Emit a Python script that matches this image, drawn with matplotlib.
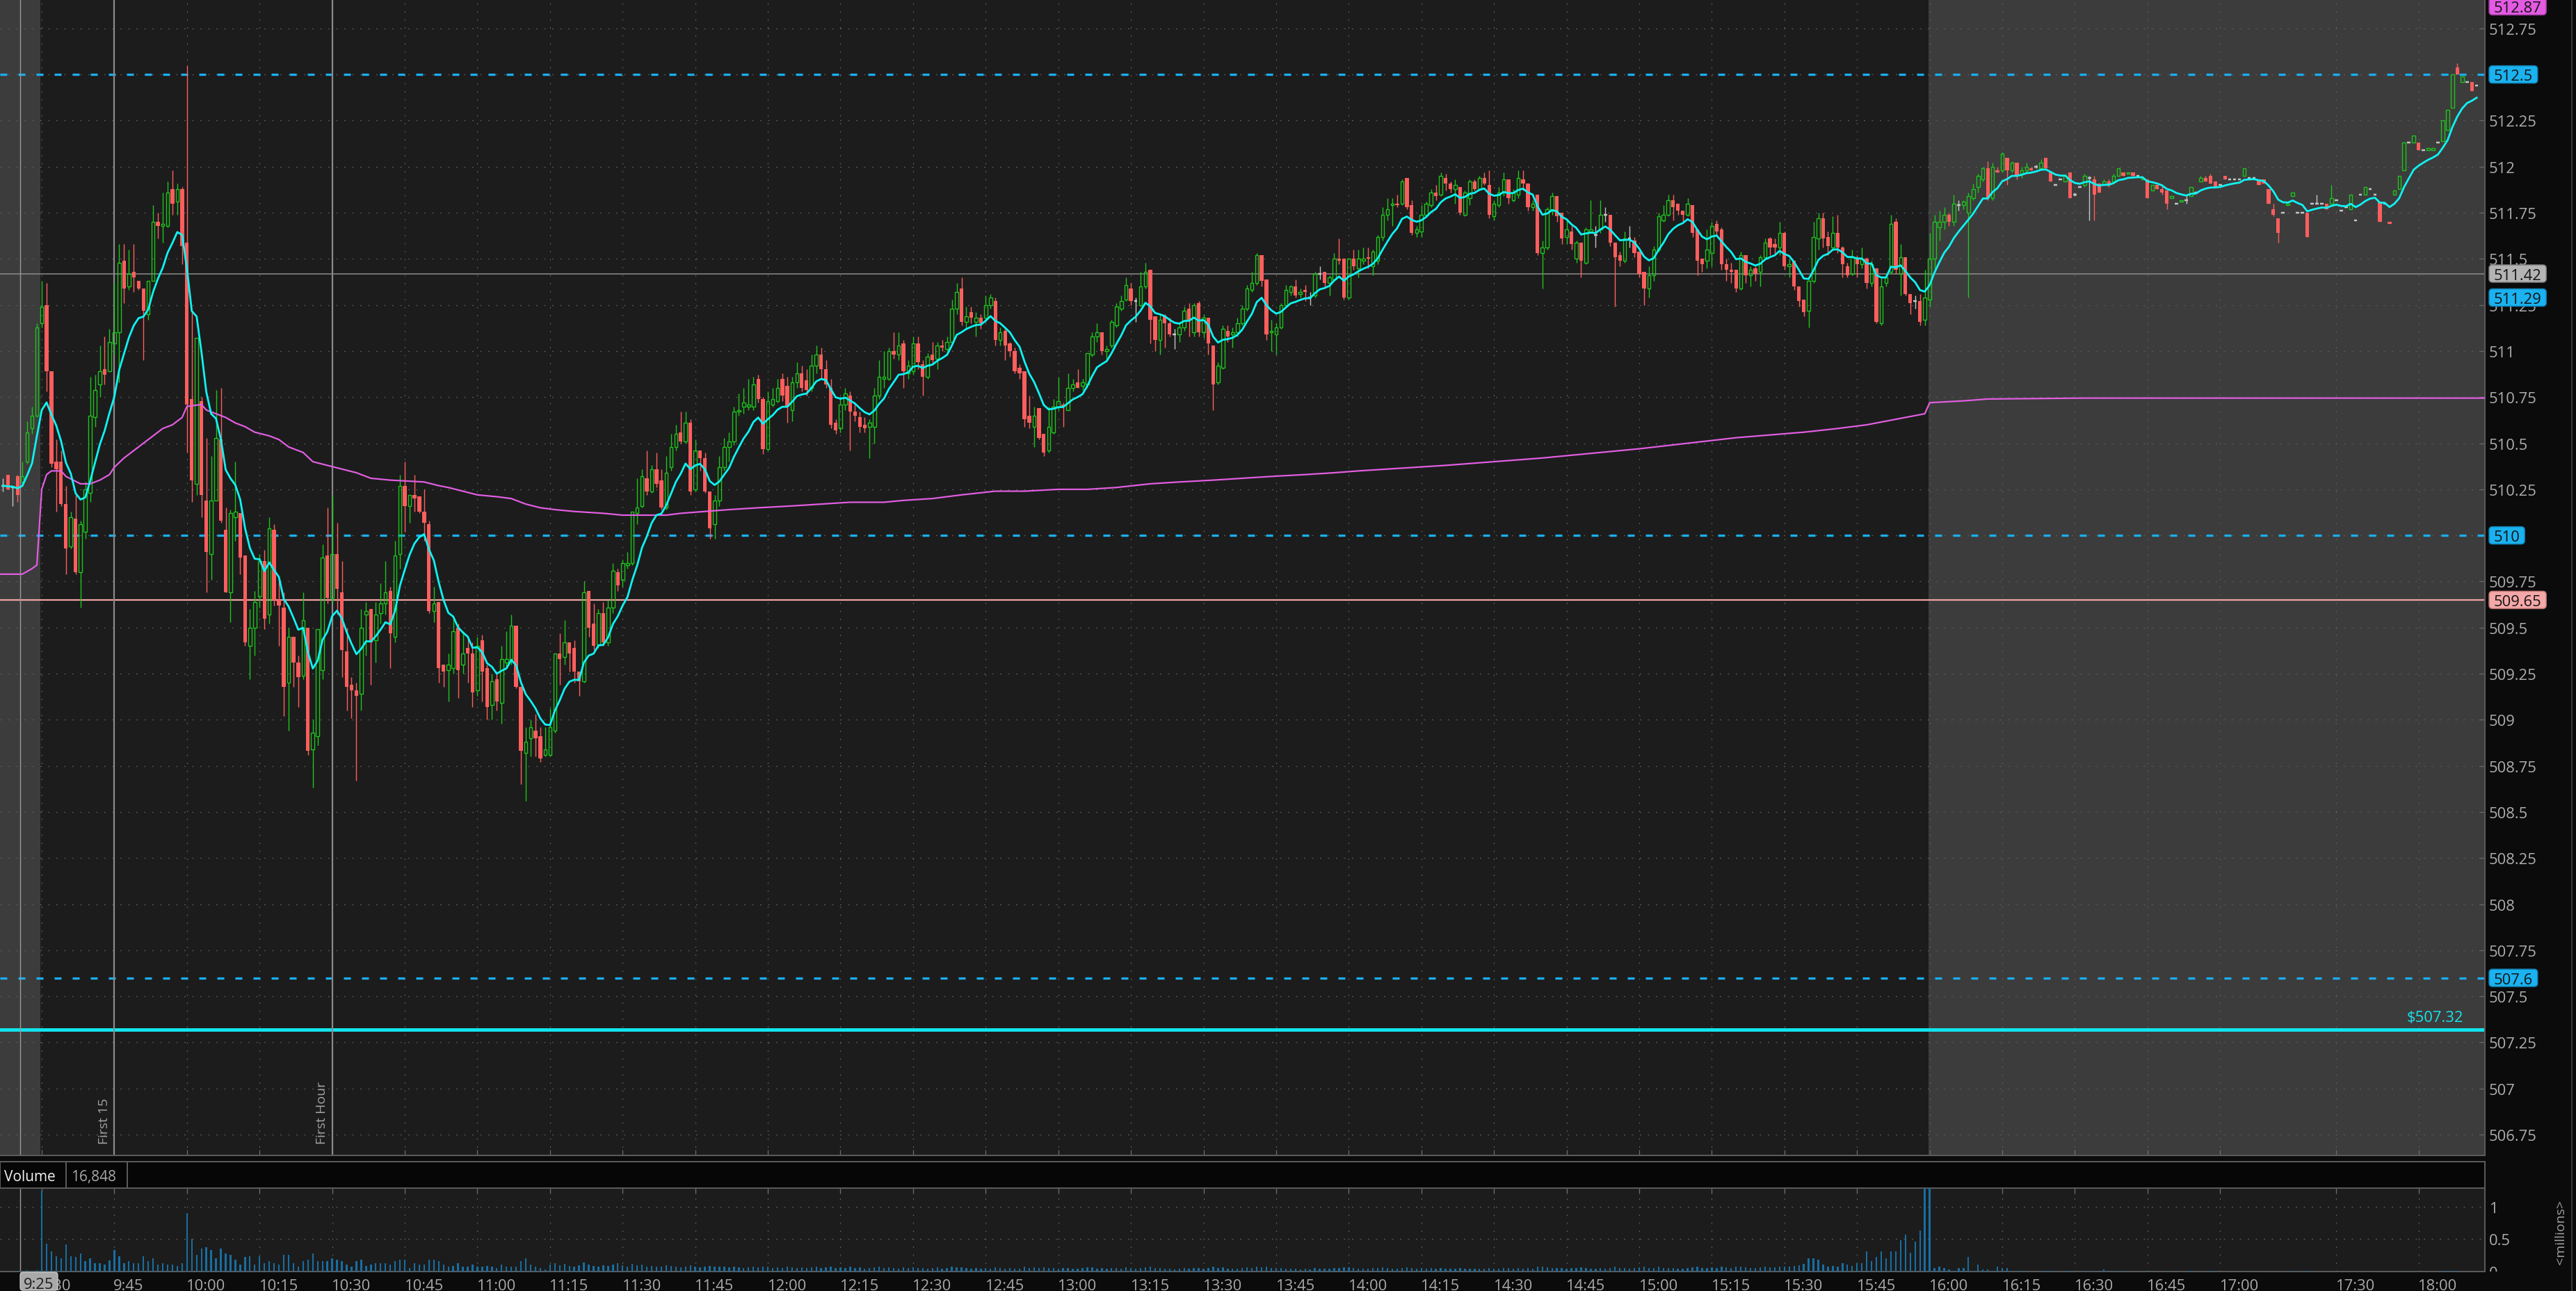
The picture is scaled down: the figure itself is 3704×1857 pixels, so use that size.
import matplotlib
matplotlib.use("Agg")
import matplotlib.pyplot as plt
import matplotlib.transforms as mtrans
from matplotlib.patches import FancyBboxPatch
from matplotlib.lines import Line2D
import numpy as np
import pandas as pd

plt.rcParams['font.family'] = ['Open Sans', 'DejaVu Sans']
plt.rcParams['lines.scale_dashes'] = False

W, H, DPI = 3704, 1858, 100
PX = 72 / DPI          # points per output pixel
FS = 15.8              # axis text size

# ------------------------------------------------------------------ data
# one-minute bars; index 0 = 9:30, negative = pre-market (first bar 9:22)
FIRST_BAR = -8

opens = [
    510.27, 510.33, 510.26, 510.32, 510.29, 510.40, 510.58, 510.65,
    511.15, 511.25, 510.89, 510.40, 510.40, 510.17, 509.94, 510.09, 509.80, 510.02, 510.23, 510.64, 510.82, 510.90, 510.89,
    511.04, 511.10, 511.49, 511.35, 511.43, 511.38, 511.34, 511.20, 511.38, 511.70, 511.68, 511.68, 511.88, 511.81, 511.88,
    511.59, 510.74, 510.28, 510.73, 510.19, 509.90, 510.19, 510.52, 510.03, 509.69, 510.10, 510.12, 509.89, 509.40, 509.50,
    509.67, 509.86, 509.57, 510.03, 509.65, 509.61, 509.20, 509.45, 509.31, 509.24, 509.50, 508.84, 508.91, 509.27, 509.89,
    509.66, 509.90, 509.69, 509.37, 509.19, 509.16, 509.14, 509.57, 509.60, 509.43, 509.58, 509.63, 509.70, 509.45, 509.90,
    510.27, 510.16, 510.22, 510.21, 510.13, 510.06, 509.59, 509.64, 509.30, 509.27, 509.28, 509.50, 509.30, 509.39, 509.36,
    509.16, 509.43, 509.28, 509.08, 509.22, 509.09, 509.31, 509.33, 509.51, 509.18, 508.82, 508.90, 508.94, 508.91, 508.81,
    508.81, 508.94, 509.36, 509.34, 509.42, 509.39, 509.26, 509.21, 509.70, 509.52, 509.41, 509.58, 509.42, 509.61, 509.80,
    509.76, 509.84, 509.85, 510.12, 510.16, 510.31, 510.24, 510.36, 510.30, 510.15, 510.37, 510.48, 510.56, 510.51, 510.61,
    510.25, 510.46, 510.42, 510.24, 510.06, 510.19, 510.37, 510.48, 510.51, 510.67, 510.70, 510.70, 510.70, 510.85, 510.74,
    510.47, 510.71, 510.73, 510.85, 510.81, 510.68, 510.83, 510.88, 510.84, 510.80, 510.92, 510.98, 510.90, 510.80, 510.61,
    510.58, 510.71, 510.76, 510.67, 510.64, 510.60, 510.59, 510.59, 510.76, 510.85, 510.85, 511.00, 510.98, 511.04, 510.88,
    510.89, 511.04, 510.93, 510.86, 510.98, 510.96, 511.03, 511.01, 511.05, 511.23, 511.34, 511.16, 511.21, 511.16, 511.18,
    511.18, 511.25, 511.27, 511.06, 511.11, 511.04, 511.00, 510.91, 510.89, 510.65, 510.59, 510.69, 510.55, 510.46, 510.56,
    510.70, 510.71, 510.68, 510.80, 510.83, 510.81, 510.82, 510.98, 511.08, 511.10, 511.00, 511.03, 511.14, 511.23, 511.28,
    511.34, 511.27, 511.25, 511.35, 511.44, 511.19, 511.06, 511.19, 511.15, 511.09, 511.09, 511.13, 511.23, 511.10, 511.26,
    511.10, 511.18, 511.03, 510.83, 510.91, 511.11, 511.09, 511.10, 511.15, 511.23, 511.33, 511.37, 511.52, 511.39, 511.10,
    511.09, 511.13, 511.25, 511.32, 511.35, 511.31, 511.33, 511.29, 511.30, 511.42, 511.43, 511.37, 511.39, 511.50, 511.50,
    511.29, 511.50, 511.45, 511.49, 511.51, 511.46, 511.49, 511.62, 511.74, 511.79, 511.80, 511.80, 511.94, 511.79, 511.64,
    511.65, 511.74, 511.79, 511.86, 511.85, 511.94, 511.91, 511.88, 511.89, 511.74, 511.83, 511.92, 511.88, 511.94, 511.90,
    511.73, 511.79, 511.86, 511.93, 511.82, 511.85, 511.93, 511.91, 511.78, 511.85, 511.53, 511.56, 511.76, 511.84, 511.75,
    511.62, 511.65, 511.50, 511.59, 511.48, 511.65, 511.63, 511.66, 511.74, 511.74, 511.59, 511.52, 511.49, 511.61, 511.60,
    511.54, 511.43, 511.34, 511.41, 511.55, 511.71, 511.74, 511.82, 511.80, 511.76, 511.74, 511.79, 511.66, 511.50, 511.49,
    511.53, 511.69, 511.66, 511.47, 511.44, 511.44, 511.34, 511.52, 511.41, 511.45, 511.43, 511.51, 511.61, 511.58, 511.56,
    511.64, 511.46, 511.49, 511.35, 511.28, 511.22, 511.38, 511.61, 511.72, 511.62, 511.56, 511.64, 511.56, 511.46, 511.42,
    511.50, 511.47, 511.50, 511.37, 511.45, 511.15, 511.37, 511.43, 511.70, 511.42, 511.51, 511.31, 511.27, 511.27, 511.17,
    511.28, 511.50, 511.67, 511.70, 511.74, 511.70, 511.79, 511.79, 511.75, 511.83, 511.89, 511.93, 511.99, 511.83, 511.98,
    511.98, 512.05, 511.98, 512.02, 511.96, 511.98, 511.99, 512.00, 511.99, 512.05, 511.97, 511.90, 511.93, 511.92, 511.97,
    511.85, 511.89, 511.90, 511.94, 511.93, 511.91, 511.90, 511.92, 511.92, 511.95, 511.97, 511.96, 511.97, 511.95, 511.93,
    511.93, 511.87, 511.90, 511.88, 511.87, 511.83, 511.80, 511.81, 511.82, 511.84, 511.86, 511.92, 511.94, 511.95, 511.92,
    511.90, 511.95, 511.93, 511.93, 511.93, 511.95, 511.94, 511.94, 511.93, 511.93, 511.88, 511.77, 511.72, 511.75, 511.79,
    511.84, 511.75, 511.75, 511.75, 511.80, 511.80, 511.80, 511.80, 511.80, 511.82, 511.76, 511.78, 511.77, 511.71, 511.85,
    511.85, 511.88, 511.85, 511.81, 511.80, 511.70, 511.85, 511.88, 511.98, 512.13, 512.13, 512.13, 512.09, 512.09, 512.09,
    512.13, 512.14, 512.20, 512.32, 512.54, 512.46, 512.46, 512.46, 512.44,
]

highs = [
    510.31, 510.33, 510.27, 510.33, 510.40, 510.62, 510.70, 511.15,
    511.38, 511.37, 510.89, 510.52, 510.46, 510.27, 510.13, 510.22, 510.08, 510.29, 510.86, 510.87, 511.03, 511.08, 511.12,
    511.37, 511.58, 511.58, 511.55, 511.58, 511.38, 511.34, 511.38, 511.79, 511.75, 511.86, 511.92, 511.98, 511.91, 511.89,
    512.55, 511.21, 511.07, 510.75, 510.53, 510.43, 510.79, 510.80, 510.15, 510.14, 510.40, 510.12, 509.89, 509.60, 509.70,
    509.90, 509.92, 510.10, 510.06, 509.76, 509.69, 509.50, 509.45, 509.35, 509.69, 509.50, 509.00, 509.49, 509.95, 510.15,
    510.22, 510.07, 509.86, 509.50, 509.23, 509.20, 509.60, 509.64, 509.60, 509.64, 509.74, 509.86, 509.72, 509.97, 510.33,
    510.40, 510.22, 510.33, 510.21, 510.25, 510.08, 509.72, 509.64, 509.30, 509.36, 509.55, 509.52, 509.48, 509.44, 509.42,
    509.45, 509.46, 509.30, 509.25, 509.26, 509.40, 509.48, 509.57, 509.51, 509.18, 508.96, 509.00, 509.03, 508.96, 508.96,
    509.06, 509.36, 509.47, 509.54, 509.42, 509.43, 509.26, 509.75, 509.70, 509.63, 509.60, 509.64, 509.65, 509.85, 509.82,
    509.87, 509.91, 510.13, 510.31, 510.36, 510.46, 510.38, 510.45, 510.36, 510.43, 510.55, 510.60, 510.67, 510.67, 510.63,
    510.52, 510.46, 510.45, 510.24, 510.22, 510.43, 510.53, 510.56, 510.70, 510.77, 510.80, 510.85, 510.86, 510.87, 510.75,
    510.78, 510.80, 510.85, 510.88, 510.86, 510.86, 510.94, 510.92, 510.90, 510.98, 511.03, 511.02, 510.95, 510.85, 510.63,
    510.75, 510.80, 510.78, 510.72, 510.67, 510.64, 510.63, 510.80, 510.95, 511.00, 511.02, 511.10, 511.10, 511.06, 510.95,
    511.08, 511.08, 510.95, 510.99, 511.05, 511.05, 511.06, 511.08, 511.28, 511.37, 511.40, 511.24, 511.24, 511.21, 511.20,
    511.30, 511.31, 511.29, 511.13, 511.12, 511.05, 511.02, 510.93, 510.89, 510.76, 510.70, 510.69, 510.55, 510.70, 510.74,
    510.86, 510.72, 510.88, 510.85, 510.90, 510.85, 510.99, 511.10, 511.15, 511.10, 511.03, 511.17, 511.26, 511.30, 511.40,
    511.37, 511.29, 511.43, 511.48, 511.44, 511.19, 511.20, 511.20, 511.18, 511.12, 511.16, 511.24, 511.26, 511.26, 511.27,
    511.20, 511.18, 511.03, 510.94, 511.14, 511.14, 511.13, 511.18, 511.25, 511.36, 511.43, 511.53, 511.52, 511.39, 511.17,
    511.15, 511.26, 511.36, 511.36, 511.39, 511.34, 511.36, 511.32, 511.43, 511.46, 511.43, 511.41, 511.53, 511.61, 511.50,
    511.50, 511.55, 511.55, 511.56, 511.56, 511.55, 511.63, 511.78, 511.83, 511.83, 511.85, 511.93, 511.94, 511.82, 511.68,
    511.79, 511.81, 511.88, 511.90, 511.97, 511.96, 511.92, 511.93, 511.89, 511.87, 511.93, 511.93, 511.95, 511.97, 511.98,
    511.82, 511.89, 511.97, 511.93, 511.88, 511.98, 511.98, 511.91, 511.82, 511.85, 511.60, 511.78, 511.86, 511.84, 511.75,
    511.72, 511.68, 511.60, 511.59, 511.67, 511.82, 511.68, 511.82, 511.78, 511.74, 511.59, 511.54, 511.65, 511.68, 511.62,
    511.54, 511.43, 511.46, 511.57, 511.75, 511.79, 511.85, 511.85, 511.80, 511.76, 511.83, 511.79, 511.66, 511.50, 511.66,
    511.70, 511.71, 511.67, 511.50, 511.48, 511.44, 511.54, 511.52, 511.46, 511.46, 511.52, 511.61, 511.62, 511.61, 511.70,
    511.65, 511.50, 511.49, 511.35, 511.28, 511.39, 511.70, 511.75, 511.75, 511.65, 511.73, 511.74, 511.57, 511.48, 511.55,
    511.52, 511.56, 511.51, 511.49, 511.45, 511.40, 511.42, 511.74, 511.72, 511.58, 511.51, 511.31, 511.30, 511.31, 511.44,
    511.64, 511.74, 511.76, 511.78, 511.75, 511.85, 511.82, 511.82, 511.86, 511.91, 511.96, 512.00, 512.03, 512.02, 512.00,
    512.08, 512.05, 512.03, 512.02, 512.00, 512.02, 512.00, 512.01, 512.04, 512.05, 511.97, 511.90, 511.93, 511.96, 511.97,
    511.86, 511.89, 511.96, 511.95, 511.95, 511.91, 511.93, 511.93, 511.96, 511.99, 511.97, 511.97, 511.97, 511.95, 511.94,
    511.93, 511.90, 511.90, 511.90, 511.87, 511.84, 511.80, 511.82, 511.84, 511.89, 511.86, 511.95, 511.95, 511.96, 511.92,
    511.90, 511.95, 511.93, 511.93, 511.93, 511.99, 511.94, 511.94, 511.93, 511.93, 511.88, 511.80, 511.72, 511.75, 511.80,
    511.86, 511.75, 511.75, 511.75, 511.80, 511.85, 511.80, 511.80, 511.90, 511.82, 511.76, 511.78, 511.85, 511.71, 511.85,
    511.89, 511.88, 511.85, 511.81, 511.80, 511.70, 511.87, 511.95, 512.13, 512.13, 512.17, 512.13, 512.09, 512.10, 512.10,
    512.13, 512.25, 512.31, 512.50, 512.56, 512.49, 512.46, 512.46, 512.44,
]

lows = [
    510.24, 510.25, 510.16, 510.18, 510.28, 510.39, 510.55, 510.64,
    511.13, 510.78, 510.37, 510.13, 510.16, 509.79, 509.93, 509.79, 509.61, 509.98, 510.18, 510.59, 510.75, 510.82, 510.89,
    510.98, 510.83, 511.26, 511.33, 511.32, 511.33, 510.95, 511.17, 511.38, 511.61, 511.59, 511.67, 511.74, 511.74, 511.47,
    510.45, 510.18, 510.22, 510.10, 509.69, 509.76, 510.19, 510.07, 509.69, 509.53, 509.97, 509.79, 509.40, 509.22, 509.35,
    509.61, 509.49, 509.52, 509.62, 509.40, 509.02, 508.94, 509.18, 509.07, 509.22, 508.81, 508.63, 508.86, 509.22, 509.63,
    509.63, 509.57, 509.23, 509.05, 509.01, 508.67, 509.05, 509.35, 509.19, 509.31, 509.52, 509.57, 509.28, 509.42, 509.82,
    510.02, 510.07, 510.13, 510.12, 509.97, 509.58, 509.53, 509.20, 509.18, 509.10, 509.25, 509.12, 509.25, 509.20, 509.07,
    509.13, 509.10, 509.00, 509.00, 509.05, 508.98, 509.28, 509.30, 509.17, 508.65, 508.56, 508.80, 508.80, 508.77, 508.80,
    508.80, 508.93, 509.19, 509.30, 509.26, 509.20, 509.13, 509.20, 509.45, 509.38, 509.39, 509.40, 509.40, 509.58, 509.70,
    509.72, 509.82, 509.84, 510.06, 510.15, 510.22, 510.23, 510.26, 510.14, 510.14, 510.35, 510.46, 510.50, 510.50, 510.22,
    510.24, 510.35, 510.23, 509.98, 509.98, 510.16, 510.35, 510.40, 510.49, 510.65, 510.66, 510.68, 510.68, 510.72, 510.44,
    510.46, 510.70, 510.72, 510.73, 510.61, 510.62, 510.80, 510.78, 510.76, 510.78, 510.88, 510.85, 510.80, 510.58, 510.55,
    510.56, 510.68, 510.46, 510.62, 510.56, 510.56, 510.42, 510.50, 510.74, 510.80, 510.84, 510.96, 510.95, 510.80, 510.85,
    510.87, 510.90, 510.76, 510.85, 510.93, 510.90, 511.00, 511.00, 511.04, 511.20, 511.14, 511.12, 511.15, 511.08, 511.12,
    511.16, 511.23, 511.03, 511.03, 510.95, 510.97, 510.88, 510.85, 510.59, 510.58, 510.48, 510.52, 510.43, 510.45, 510.55,
    510.68, 510.59, 510.68, 510.78, 510.80, 510.79, 510.80, 510.97, 511.05, 510.98, 510.95, 511.02, 511.13, 511.22, 511.27,
    511.25, 511.16, 511.24, 511.34, 511.04, 511.00, 510.98, 511.02, 511.08, 511.01, 511.05, 511.11, 511.08, 511.08, 511.08,
    511.07, 510.98, 510.68, 510.82, 510.90, 511.05, 511.02, 511.08, 511.14, 511.22, 511.32, 511.36, 511.35, 511.06, 511.00,
    510.98, 511.12, 511.24, 511.30, 511.29, 511.29, 511.27, 511.25, 511.29, 511.39, 511.35, 511.30, 511.38, 511.47, 511.28,
    511.28, 511.44, 511.40, 511.47, 511.45, 511.41, 511.47, 511.60, 511.71, 511.68, 511.78, 511.79, 511.77, 511.63, 511.62,
    511.62, 511.73, 511.78, 511.82, 511.84, 511.87, 511.86, 511.80, 511.74, 511.73, 511.79, 511.87, 511.87, 511.90, 511.72,
    511.71, 511.78, 511.84, 511.80, 511.81, 511.83, 511.87, 511.76, 511.76, 511.52, 511.34, 511.55, 511.74, 511.70, 511.58,
    511.58, 511.55, 511.48, 511.40, 511.47, 511.64, 511.56, 511.64, 511.70, 511.57, 511.24, 511.46, 511.48, 511.56, 511.51,
    511.40, 511.25, 511.29, 511.38, 511.54, 511.70, 511.73, 511.71, 511.74, 511.70, 511.73, 511.62, 511.41, 511.43, 511.45,
    511.46, 511.63, 511.44, 511.38, 511.37, 511.32, 511.33, 511.37, 511.35, 511.38, 511.35, 511.50, 511.52, 511.52, 511.52,
    511.44, 511.40, 511.33, 511.24, 511.19, 511.13, 511.37, 511.55, 511.56, 511.52, 511.55, 511.53, 511.40, 511.40, 511.41,
    511.40, 511.45, 511.34, 511.35, 511.15, 511.14, 511.35, 511.42, 511.42, 511.30, 511.30, 511.20, 511.23, 511.14, 511.14,
    511.24, 511.45, 511.60, 511.66, 511.68, 511.68, 511.76, 511.77, 511.29, 511.82, 511.86, 511.92, 511.82, 511.82, 511.97,
    511.97, 511.90, 511.97, 511.93, 511.94, 511.97, 511.98, 511.99, 511.99, 511.99, 511.92, 511.90, 511.93, 511.92, 511.83,
    511.84, 511.89, 511.89, 511.71, 511.71, 511.86, 511.90, 511.89, 511.91, 511.95, 511.95, 511.96, 511.95, 511.95, 511.93,
    511.83, 511.87, 511.88, 511.85, 511.77, 511.83, 511.80, 511.81, 511.80, 511.84, 511.86, 511.92, 511.92, 511.91, 511.89,
    511.90, 511.93, 511.93, 511.93, 511.93, 511.95, 511.94, 511.94, 511.90, 511.91, 511.80, 511.73, 511.59, 511.75, 511.79,
    511.84, 511.75, 511.75, 511.62, 511.80, 511.80, 511.80, 511.77, 511.80, 511.82, 511.76, 511.78, 511.77, 511.71, 511.85,
    511.85, 511.88, 511.85, 511.70, 511.80, 511.69, 511.85, 511.88, 511.98, 512.13, 512.13, 512.09, 512.09, 512.09, 512.09,
    512.13, 512.14, 512.20, 512.32, 512.50, 512.46, 512.46, 512.41, 512.44,
]

closes = [
    510.27, 510.25, 510.26, 510.22, 510.32, 510.56, 510.65, 511.13,
    511.24, 510.89, 510.39, 510.36, 510.17, 509.93, 510.10, 509.80, 510.06, 510.25, 510.65, 510.79, 510.89, 510.87, 511.05,
    511.10, 511.48, 511.34, 511.42, 511.40, 511.34, 511.22, 511.38, 511.70, 511.68, 511.69, 511.86, 511.80, 511.88, 511.57,
    510.71, 510.30, 511.07, 510.22, 509.91, 510.19, 510.53, 510.08, 509.69, 510.12, 510.13, 509.88, 509.42, 509.50, 509.64,
    509.86, 509.55, 510.04, 509.65, 509.62, 509.18, 509.45, 509.31, 509.23, 509.54, 508.83, 508.93, 509.49, 509.88, 509.66,
    509.90, 509.71, 509.38, 509.18, 509.16, 509.13, 509.50, 509.59, 509.42, 509.57, 509.63, 509.69, 509.47, 509.89, 510.27,
    510.16, 510.22, 510.20, 510.13, 510.07, 509.59, 509.63, 509.28, 509.26, 509.30, 509.48, 509.27, 509.36, 509.36, 509.15,
    509.40, 509.26, 509.07, 509.21, 509.10, 509.33, 509.33, 509.51, 509.18, 508.83, 508.88, 508.96, 508.90, 508.79, 508.84,
    508.96, 509.36, 509.33, 509.42, 509.36, 509.26, 509.21, 509.69, 509.50, 509.40, 509.58, 509.42, 509.61, 509.81, 509.73,
    509.85, 509.85, 510.13, 510.15, 510.32, 510.24, 510.36, 510.28, 510.15, 510.34, 510.48, 510.55, 510.51, 510.61, 510.24,
    510.46, 510.42, 510.24, 510.04, 510.19, 510.37, 510.48, 510.51, 510.67, 510.68, 510.72, 510.71, 510.82, 510.74, 510.47,
    510.73, 510.74, 510.80, 510.76, 510.70, 510.83, 510.88, 510.80, 510.79, 510.92, 510.98, 510.90, 510.82, 510.60, 510.57,
    510.71, 510.77, 510.67, 510.65, 510.59, 510.58, 510.61, 510.76, 510.86, 510.86, 511.00, 510.98, 511.03, 510.89, 510.92,
    511.04, 510.94, 510.86, 510.97, 510.95, 511.03, 511.02, 511.05, 511.23, 511.32, 511.16, 511.19, 511.18, 511.18, 511.15,
    511.25, 511.29, 511.06, 511.10, 511.03, 511.00, 510.89, 510.88, 510.63, 510.61, 510.65, 510.53, 510.45, 510.59, 510.70,
    510.73, 510.70, 510.80, 510.82, 510.80, 510.83, 510.99, 511.08, 511.10, 511.00, 511.01, 511.16, 511.24, 511.27, 511.36,
    511.27, 511.27, 511.35, 511.43, 511.17, 511.06, 511.17, 511.15, 511.09, 511.09, 511.13, 511.22, 511.17, 511.25, 511.10,
    511.18, 511.04, 510.82, 510.92, 511.12, 511.08, 511.10, 511.15, 511.23, 511.34, 511.37, 511.52, 511.38, 511.09, 511.11,
    511.13, 511.25, 511.33, 511.35, 511.30, 511.32, 511.32, 511.29, 511.42, 511.42, 511.37, 511.40, 511.50, 511.49, 511.29,
    511.50, 511.46, 511.50, 511.50, 511.50, 511.54, 511.62, 511.74, 511.77, 511.80, 511.79, 511.92, 511.78, 511.64, 511.66,
    511.74, 511.80, 511.86, 511.84, 511.95, 511.91, 511.88, 511.90, 511.75, 511.86, 511.92, 511.88, 511.94, 511.91, 511.74,
    511.80, 511.86, 511.93, 511.83, 511.86, 511.94, 511.91, 511.78, 511.80, 511.53, 511.56, 511.77, 511.84, 511.73, 511.61,
    511.66, 511.58, 511.59, 511.49, 511.66, 511.66, 511.63, 511.74, 511.74, 511.59, 511.51, 511.49, 511.61, 511.61, 511.53,
    511.42, 511.34, 511.41, 511.55, 511.73, 511.74, 511.82, 511.78, 511.76, 511.74, 511.80, 511.64, 511.49, 511.47, 511.55,
    511.68, 511.65, 511.47, 511.44, 511.43, 511.34, 511.52, 511.41, 511.44, 511.42, 511.51, 511.59, 511.56, 511.56, 511.64,
    511.46, 511.47, 511.35, 511.27, 511.21, 511.38, 511.62, 511.72, 511.61, 511.57, 511.64, 511.56, 511.47, 511.41, 511.51,
    511.47, 511.50, 511.37, 511.47, 511.16, 511.35, 511.40, 511.69, 511.44, 511.51, 511.31, 511.26, 511.27, 511.16, 511.29,
    511.50, 511.70, 511.70, 511.74, 511.70, 511.80, 511.79, 511.81, 511.84, 511.88, 511.95, 511.99, 511.83, 512.00, 511.97,
    512.07, 511.98, 512.02, 511.95, 511.98, 512.00, 511.98, 512.00, 512.02, 511.99, 511.92, 511.90, 511.93, 511.95, 511.83,
    511.85, 511.89, 511.95, 511.94, 511.85, 511.86, 511.92, 511.90, 511.95, 511.99, 511.95, 511.97, 511.95, 511.95, 511.94,
    511.83, 511.90, 511.88, 511.86, 511.80, 511.84, 511.80, 511.82, 511.82, 511.89, 511.86, 511.94, 511.92, 511.91, 511.89,
    511.90, 511.93, 511.93, 511.93, 511.93, 511.99, 511.94, 511.94, 511.90, 511.91, 511.80, 511.74, 511.64, 511.75, 511.80,
    511.86, 511.75, 511.75, 511.62, 511.80, 511.80, 511.80, 511.77, 511.83, 511.82, 511.76, 511.78, 511.85, 511.71, 511.85,
    511.89, 511.88, 511.85, 511.70, 511.80, 511.69, 511.87, 511.95, 512.13, 512.13, 512.17, 512.09, 512.09, 512.10, 512.10,
    512.13, 512.25, 512.31, 512.50, 512.50, 512.49, 512.46, 512.41, 512.44,
]

# volume in millions, same bars
volume = [
    0.004, 0.004, 0.004, 0.01, 0.004, 0.025, 0.01, 0.025,
    1.24, 0.43, 0.31, 0.24, 0.20, 0.42, 0.24, 0.22, 0.28, 0.16, 0.20, 0.13, 0.13, 0.11, 0.17,
    0.33, 0.24, 0.13, 0.16, 0.13, 0.13, 0.24, 0.16, 0.20, 0.11, 0.13, 0.11, 0.11, 0.09, 0.13,
    0.90, 0.50, 0.26, 0.35, 0.37, 0.33, 0.20, 0.35, 0.28, 0.26, 0.18, 0.11, 0.22, 0.24, 0.11,
    0.24, 0.13, 0.16, 0.13, 0.11, 0.26, 0.26, 0.13, 0.07, 0.16, 0.18, 0.28, 0.16, 0.16, 0.16,
    0.20, 0.18, 0.16, 0.11, 0.07, 0.16, 0.18, 0.09, 0.11, 0.13, 0.13, 0.13, 0.11, 0.16, 0.18,
    0.18, 0.05, 0.13, 0.11, 0.11, 0.18, 0.18, 0.16, 0.11, 0.07, 0.09, 0.13, 0.07, 0.07, 0.11,
    0.07, 0.07, 0.09, 0.07, 0.05, 0.11, 0.07, 0.07, 0.07, 0.16, 0.20, 0.11, 0.07, 0.05, 0.03,
    0.11, 0.13, 0.10, 0.12, 0.09, 0.08, 0.10, 0.14, 0.11, 0.09, 0.08, 0.10, 0.09, 0.11, 0.13,
    0.10, 0.08, 0.12, 0.10, 0.11, 0.08, 0.09, 0.07, 0.08, 0.10, 0.09, 0.07, 0.06, 0.08, 0.10,
    0.08, 0.06, 0.07, 0.09, 0.07, 0.08, 0.07, 0.06, 0.08, 0.06, 0.05, 0.06, 0.07, 0.06, 0.08,
    0.07, 0.05, 0.06, 0.05, 0.07, 0.06, 0.05, 0.06, 0.05, 0.06, 0.07, 0.05, 0.06, 0.07, 0.05,
    0.06, 0.05, 0.07, 0.05, 0.06, 0.04, 0.05, 0.06, 0.07, 0.05, 0.06, 0.05, 0.04, 0.06, 0.05,
    0.06, 0.05, 0.05, 0.04, 0.05, 0.06, 0.04, 0.05, 0.07, 0.06, 0.06, 0.05, 0.04, 0.05, 0.04,
    0.05, 0.04, 0.06, 0.05, 0.04, 0.05, 0.04, 0.04, 0.07, 0.05, 0.06, 0.05, 0.06, 0.05, 0.05,
    0.04, 0.05, 0.05, 0.04, 0.04, 0.05, 0.06, 0.06, 0.04, 0.05, 0.04, 0.05, 0.05, 0.04, 0.06,
    0.05, 0.04, 0.05, 0.06, 0.07, 0.05, 0.05, 0.04, 0.04, 0.03, 0.04, 0.05, 0.04, 0.05, 0.05,
    0.04, 0.05, 0.07, 0.05, 0.06, 0.04, 0.04, 0.04, 0.05, 0.06, 0.05, 0.07, 0.06, 0.07, 0.05,
    0.05, 0.05, 0.04, 0.04, 0.04, 0.03, 0.04, 0.03, 0.05, 0.04, 0.04, 0.04, 0.05, 0.05, 0.06,
    0.06, 0.05, 0.04, 0.04, 0.04, 0.05, 0.05, 0.06, 0.05, 0.04, 0.04, 0.05, 0.06, 0.05, 0.04,
    0.05, 0.04, 0.05, 0.04, 0.05, 0.04, 0.04, 0.04, 0.05, 0.04, 0.04, 0.04, 0.04, 0.04, 0.05,
    0.04, 0.04, 0.05, 0.05, 0.04, 0.05, 0.04, 0.05, 0.04, 0.08, 0.07, 0.06, 0.05, 0.05, 0.05,
    0.04, 0.05, 0.05, 0.06, 0.05, 0.04, 0.04, 0.05, 0.04, 0.05, 0.07, 0.05, 0.05, 0.04, 0.05,
    0.06, 0.07, 0.05, 0.05, 0.07, 0.05, 0.05, 0.05, 0.04, 0.04, 0.05, 0.06, 0.07, 0.05, 0.05,
    0.06, 0.05, 0.07, 0.06, 0.05, 0.07, 0.07, 0.06, 0.05, 0.05, 0.06, 0.07, 0.06, 0.06, 0.07,
    0.08, 0.07, 0.09, 0.10, 0.12, 0.20, 0.20, 0.18, 0.11, 0.07, 0.09, 0.07, 0.13, 0.11, 0.09,
    0.13, 0.13, 0.31, 0.16, 0.22, 0.31, 0.20, 0.31, 0.31, 0.48, 0.57, 0.29, 0.46, 0.63, 1.60,
    1.50, 0.05, 0.07, 0.05, 0.03, 0.01, 0.05, 0.05, 0.22, 0.01, 0.11, 0.03, 0.03, 0.01, 0.07,
    0.05, 0.05, 0.01, 0.01, 0.01, 0.01, 0.005, 0.005, 0.01, 0.01, 0.01, 0.005, 0.005, 0.01, 0.01,
    0.005, 0.005, 0.01, 0.005, 0.01, 0.01, 0.03, 0.01, 0.01, 0.01, 0.01, 0.005, 0.01, 0.005, 0.005,
    0.01, 0.005, 0.005, 0.005, 0.01, 0.005, 0.005, 0.005, 0.005, 0.01, 0.005, 0.005, 0.005, 0.01, 0.005,
    0.005, 0.005, 0.005, 0.005, 0.005, 0.01, 0.005, 0.005, 0.005, 0.005, 0.005, 0.005, 0.01, 0.005, 0.005,
    0.01, 0.005, 0.005, 0.01, 0.005, 0.005, 0.005, 0.005, 0.005, 0.005, 0.005, 0.005, 0.005, 0.005, 0.005,
    0.005, 0.005, 0.005, 0.005, 0.005, 0.005, 0.005, 0.005, 0.01, 0.005, 0.005, 0.005, 0.005, 0.005, 0.005,
    0.005, 0.01, 0.01, 0.01, 0.01, 0.005, 0.005, 0.005, 0.005,
]

# VWAP line (bar index, price)
vwap_bar = [-8.6, -4, -2, -1, 0, 1, 2, 4, 5, 8, 10, 12, 14, 15, 17, 19, 21, 23, 25, 27, 29, 30, 33,
            34, 36, 38, 40, 42, 44, 47, 49, 51, 54, 56, 59, 62, 65, 68, 72, 79, 82, 84, 87, 90, 94,
            97, 100, 103, 106, 110, 116, 120, 129, 132, 137, 142, 148, 155, 161, 167, 174, 178, 184,
            190, 197, 203, 210, 216, 222, 229, 235, 242, 248, 254, 261, 267, 272, 290, 310, 330, 350,
            364, 371, 377, 383, 387, 389, 390, 397, 402, 422, 504.7]
vwap_val = [509.79, 509.79, 509.82, 509.84, 510.25, 510.33, 510.35, 510.35, 510.32, 510.28, 510.28,
            510.30, 510.33, 510.37, 510.42, 510.46, 510.50, 510.54, 510.58, 510.60, 510.64, 510.70,
            510.71, 510.68, 510.66, 510.64, 510.61, 510.59, 510.56, 510.54, 510.52, 510.48, 510.45,
            510.40, 510.38, 510.36, 510.34, 510.31, 510.30, 510.29, 510.27, 510.26, 510.24, 510.22,
            510.21, 510.20, 510.17, 510.15, 510.14, 510.13, 510.12, 510.11, 510.11, 510.12, 510.13,
            510.14, 510.15, 510.16, 510.17, 510.18, 510.18, 510.19, 510.20, 510.22, 510.24, 510.24,
            510.25, 510.25, 510.26, 510.28, 510.29, 510.30, 510.31, 510.32, 510.33, 510.34, 510.35,
            510.38, 510.42, 510.47, 510.53, 510.56, 510.58, 510.60, 510.63, 510.65, 510.66, 510.72,
            510.73, 510.74, 510.745, 510.745]

time_pos = [0, 15, 30, 45, 60, 75, 90, 105, 120, 135, 150, 165, 180, 195, 210, 225, 240, 255, 270,
            285, 300, 315, 330, 345, 360, 375, 390, 405, 420, 435, 450, 474, 491]
time_lab = ['9:30', '9:45', '10:00', '10:15', '10:30', '10:45', '11:00', '11:15', '11:30', '11:45',
            '12:00', '12:15', '12:30', '12:45', '13:00', '13:15', '13:30', '13:45', '14:00', '14:15',
            '14:30', '14:45', '15:00', '15:15', '15:30', '15:45', '16:00', '16:15', '16:30', '16:45',
            '17:00', '17:30', '18:00']

price_ticks = [506.75, 507, 507.25, 507.5, 507.75, 508, 508.25, 508.5, 508.75, 509, 509.25, 509.5,
               509.75, 510, 510.25, 510.5, 510.75, 511, 511.25, 511.5, 511.75, 512, 512.25, 512.5, 512.75]

alert_levels = [512.5, 510.0, 507.6]      # dashed blue lines
pink_level = 509.65
cross_price = 511.42                      # cursor crosshair
cross_bar = -4.5
cross_time = '9:25'
support_level = 507.32
marker_bars = [15, 60]
marker_names = ['First 15', 'First Hour']

# right-axis price bubbles: text, price, fill, edge
bubble_text = ['512.87', '512.5', '511.42', '511.29', '510', '509.65', '507.6']
bubble_price = [512.87, 512.5, 511.42, 511.29, 510.0, 509.65, 507.6]
bubble_fill = ['#e35ae3', '#1ab2f0', '#b4b4b4', '#1ab2f0', '#1ab2f0', '#f5a8a8', '#1ab2f0']
bubble_edge = ['#9c3a9c', '#137fb0', '#7c7c7c', '#137fb0', '#137fb0', '#b87272', '#137fb0']

# ------------------------------------------------------------------ colours
BG = '#1c1c1c'
EXT = '#3c3c3c'
GREEN = '#1cc41c'
RED = '#ff5e5e'
DOJI = '#c4c4c4'
GRID = '#5c5c5c'
SPINE = '#5a5a5a'
TXT = '#adadad'
BLUE = '#1aaeee'

o = np.array(opens)
h = np.array(highs)
l = np.array(lows)
c = np.array(closes)
v = np.array(volume)
k = np.arange(FIRST_BAR, FIRST_BAR + len(c))
ema = pd.Series(c).ewm(span=9, adjust=False).mean().values

XL = (-8.62, 504.7)
YL = (506.637, 512.908)

fig = plt.figure(figsize=(W / DPI, H / DPI), dpi=DPI, facecolor='#0b0b0b')
PIX = mtrans.Affine2D().scale(1 / W, 1 / H) + fig.transFigure   # pixels from bottom-left


def box(x0, y0, x1, y1):
    # pixel box measured from the top-left corner
    return [x0 / W, 1 - y1 / H, (x1 - x0) / W, (y1 - y0) / H]


dots = (0, (2 * PX, 9.5 * PX))

# ------------------------------------------------------------------ price panel
ax = fig.add_axes(box(0, 0, 3573, 1663))
ax.set_facecolor(BG)
ax.set_xlim(*XL)
ax.set_ylim(*YL)
ax.axvspan(XL[0], -0.3, color=EXT, lw=0, zorder=0)
ax.axvspan(389.7, XL[1], color=EXT, lw=0, zorder=0)

ax.set_yticks(price_ticks)
ax.set_yticklabels([f'{p:g}' for p in price_ticks])
ax.set_xticks(time_pos)
ax.grid(True, color=GRID, lw=1.2 * PX, linestyle=dots, zorder=1)
ax.yaxis.tick_right()
ax.tick_params(axis='y', direction='in', length=8 * PX, width=1.2 * PX, color='#6a6a6a',
               labelcolor=TXT, labelsize=FS, pad=6 * PX)
ax.tick_params(axis='x', direction='in', length=8 * PX, width=1.2 * PX, color='#707070',
               labelbottom=False)
for s in ['top', 'left']:
    ax.spines[s].set_visible(False)
for s in ['right', 'bottom']:
    ax.spines[s].set_color(SPINE)
    ax.spines[s].set_linewidth(2 * PX)

# reference lines
for lev in alert_levels:
    ax.axhline(lev, color=BLUE, lw=3.3 * PX, linestyle=(0, (10 * PX, 16 * PX)), zorder=2)
ax.axhline(pink_level, color='#f2a4a4', lw=2.2 * PX, zorder=2)
ax.axhline(cross_price, color='#8e8e8e', lw=1.5 * PX, zorder=2)
ax.axhline(support_level, color='#12e4ec', lw=5 * PX, zorder=2)
ax.text(500.3, support_level + 0.075, '$' + f'{support_level:.2f}', color='#19e2ea', fontsize=FS,
        ha='right', va='center_baseline', zorder=6)
ax.axvline(cross_bar, color='#9a9a9a', lw=1.4 * PX, zorder=2)
for mb, name in zip(marker_bars, marker_names):
    ax.axvline(mb, color='#8a8a8a', lw=2.2 * PX, zorder=2)
    ax.text(mb - 2.1, 506.70, name, rotation=90, color='#a2a2a2', fontsize=14,
            ha='center', va='bottom', zorder=6)

# candles
BW = 0.66
up = c > o + 0.001
dn = c < o - 0.001
fl = ~(up | dn)
top = np.maximum(o, c)
bot = np.minimum(o, c)
hgt = np.maximum(top - bot, 0.008)
WL = 1.4 * PX

ax.vlines(k[up], top[up], h[up], color=GREEN, lw=WL, zorder=3)
ax.vlines(k[up], l[up], bot[up], color=GREEN, lw=WL, zorder=3)
ax.bar(k[up], hgt[up], bottom=bot[up], width=BW, facecolor='none', edgecolor=GREEN,
       linewidth=1.4 * PX, zorder=3)
ax.vlines(k[dn], l[dn], h[dn], color=RED, lw=WL, zorder=3)
ax.bar(k[dn], hgt[dn], bottom=bot[dn], width=BW + 0.1, color=RED, lw=0, zorder=3)
ax.vlines(k[fl], l[fl], h[fl], color=DOJI, lw=WL, zorder=3)
ax.hlines(c[fl], k[fl] - BW / 2, k[fl] + BW / 2, color=DOJI, lw=2.5 * PX, zorder=3)

ax.plot(vwap_bar, vwap_val, color='#e25ee2', lw=2.2 * PX, zorder=4)
ax.plot(k, ema, color='#10f2f2', lw=2.8 * PX, zorder=5)

# ------------------------------------------------------------------ volume header
axh = fig.add_axes(box(0, 1672, 3573, 1710))
axh.set_facecolor('#060606')
axh.set_xticks([])
axh.set_yticks([])
for s in axh.spines.values():
    s.set_color(SPINE)
    s.set_linewidth(2 * PX)
axh.set_xlim(0, 3573)
axh.set_ylim(0, 1)
axh.axvline(95, color=SPINE, lw=2 * PX)
axh.axvline(183, color=SPINE, lw=2 * PX)
axh.text(6, 0.5, 'Volume', color='#f2f2f2', fontsize=15, ha='left', va='center_baseline')
axh.text(102, 0.5, '16,848', color='#a8a8a8', fontsize=15, ha='left', va='center_baseline')

# ------------------------------------------------------------------ volume panel
axv = fig.add_axes(box(0, 1710, 3573, 1830))
axv.set_facecolor(BG)
axv.set_xlim(*XL)
axv.set_ylim(0, 1.285)
axv.bar(k, v, width=0.34, color='#186ea2', lw=0, zorder=3)
axv.set_xticks(time_pos)
axv.set_yticks([0.5, 1.0])
axv.grid(True, color=GRID, lw=1.2 * PX, linestyle=dots, zorder=1)
axv.tick_params(axis='x', direction='in', length=8 * PX, width=1.2 * PX, color='#707070',
                bottom=False, top=True, labelbottom=False)
axv.tick_params(axis='y', left=False, right=False, labelleft=False)
for s in axv.spines.values():
    s.set_color(SPINE)
    s.set_linewidth(2 * PX)
axv.spines['left'].set_visible(False)
axv.axvline(cross_bar, color='#9a9a9a', lw=1.4 * PX, zorder=2)

for pos, lab in zip(time_pos, time_lab):
    axv.text(pos - 0.2, -0.146, lab, transform=axv.get_xaxis_transform(), color='#a9a9a9',
             fontsize=FS, ha='left', va='center_baseline', clip_on=False, zorder=2)

# cursor time bubble over the 9:30 label
fig.add_artist(FancyBboxPatch((29, H - 1857), 54, 26, boxstyle='round,pad=0,rounding_size=4',
                              transform=PIX, fc='#a9a9a9', ec='#d0d0d0', lw=1.2 * PX, zorder=2))
fig.text(56 / W, (H - 1846) / H, cross_time, color='#1c1c1c', fontsize=FS,
         ha='center', va='center_baseline', zorder=3)

# volume scale labels (clipped like the original)
axl = fig.add_axes(box(3573, 1710, 3698, 1830))
axl.set_xlim(0, 1)
axl.set_ylim(0, 1.285)
axl.axis('off')
for val, lab in [(1.0, '1'), (0.5, '0.5'), (0.0, '0')]:
    axl.text(0.048, val, lab, color=TXT, fontsize=FS, ha='left', va='center_baseline', clip_on=True)
axl.text(0.87, 0.62, '<millions>', color='#a0a0a0', fontsize=14, rotation=90,
         ha='center', va='center', clip_on=True)

# ------------------------------------------------------------------ price bubbles
for txt, pr, fc, ec in zip(bubble_text, bubble_price, bubble_fill, bubble_edge):
    yc = H - (240.7 + (512 - pr) * 265.2)
    wpx = 14 + 12.4 * sum(1 for ch in txt if ch.isdigit()) + 6.2 * txt.count('.')
    fig.add_artist(FancyBboxPatch((3579, yc - 12.5), wpx, 25, boxstyle='round,pad=0,rounding_size=5',
                                  transform=PIX, fc=fc, ec=ec, lw=1.5 * PX, zorder=2))
    fig.text(3586 / W, yc / H, txt, color='#141414', fontsize=FS, ha='left',
             va='center_baseline', zorder=3)

# right border
fig.add_artist(Line2D([3698 / W, 3698 / W], [0, 1], transform=fig.transFigure,
                      color='#4a4a4a', lw=1.5 * PX))

fig.savefig('out.png', dpi=DPI, facecolor=fig.get_facecolor())
